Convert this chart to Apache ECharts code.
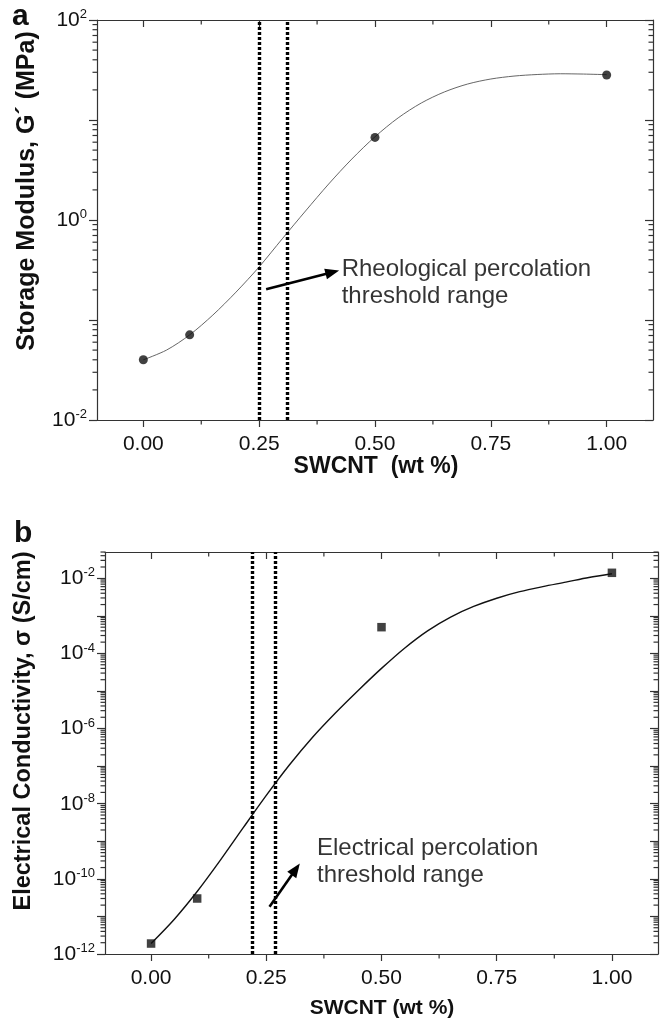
<!DOCTYPE html>
<html>
<head>
<meta charset="utf-8">
<script src="https://cdn.jsdelivr.net/npm/echarts@6/dist/echarts.min.js"></script>
<style>
  html, body { margin: 0; padding: 0; background: #fff; }
  #chart { width: 663px; height: 1026px; }
</style>
</head>
<body>
<div id="chart"></div>
<script>
// panel a - storage modulus (MPa) vs SWCNT loading
const loadA = [0, 0.1, 0.5, 1.0];
const modulus = [0.040, 0.071, 6.7, 28.2];
const fitLoadA = [0, 0.05, 0.1, 0.15, 0.2, 0.25, 0.3, 0.35, 0.4, 0.45, 0.5, 0.55, 0.6, 0.65, 0.7, 0.75, 0.8, 0.85, 0.9, 0.95, 1.0];
const fitModulus = [0.040, 0.050, 0.071, 0.112, 0.19, 0.34, 0.65, 1.23, 2.29, 4.07, 6.8, 10.5, 14.8, 19.1, 22.9, 25.7, 27.5, 28.5, 29.0, 28.8, 28.4];
const rheoThreshold = [0.25, 0.31];

// panel b - electrical conductivity (S/cm) vs SWCNT loading
const loadB = [0, 0.1, 0.5, 1.0];
const conductivity = [1.9e-12, 3.0e-11, 5.0e-4, 1.4e-2];
const fitLoadB = [0, 0.05, 0.1, 0.15, 0.2, 0.25, 0.3, 0.35, 0.4, 0.45, 0.5, 0.55, 0.6, 0.65, 0.7, 0.75, 0.8, 0.85, 0.9, 0.95, 1.0];
const fitConductivity = [1.9e-12, 8.3e-12, 4.6e-11, 3.1e-10, 2.3e-9, 1.66e-8, 1.07e-7, 5.8e-7, 2.6e-6, 1.05e-5, 4.0e-5, 1.38e-4, 4.0e-4, 9.3e-4, 1.78e-3, 2.95e-3, 4.4e-3, 6.0e-3, 7.9e-3, 1.05e-2, 1.32e-2];
const elecThreshold = [0.217, 0.273];

// ticks
const xRange = [-0.1, 1.1];
const xTicks = [0, 0.25, 0.5, 0.75, 1.0];
const xMinorTicks = [0.125, 0.375, 0.625, 0.875];
const yRangeA = [-2, 2];      // decades
const yRangeB = [-12, -1.3];
const yLabelExpA = [-2, 0, 2];
const yLabelExpB = [-12, -10, -8, -6, -4, -2];

const font = 'Liberation Sans';
const ink = '#111';
const axisColor = '#333';

const log = v => Math.log10(v);

function logMinor(lo, hi) {
  const out = [];
  for (let n = Math.floor(lo); n < hi; n++) {
    for (let k = 2; k <= 9; k++) {
      const v = n + Math.log10(k);
      if (v > lo && v < hi) out.push(v);
    }
  }
  return out;
}
function decades(lo, hi) {
  const out = [];
  for (let n = Math.ceil(lo); n <= hi; n++) out.push(n);
  return out;
}

const lineStyle = { color: axisColor, width: 1.2 };

function xAxes(gridIndex) {
  const base = { gridIndex, type: 'value', min: xRange[0], max: xRange[1], splitLine: { show: false } };
  return [
    { ...base, position: 'bottom',
      axisLine: { show: true, onZero: false, lineStyle },
      axisTick: { show: true, customValues: xTicks, length: 7, lineStyle },
      axisLabel: { customValues: xTicks, margin: 14, fontSize: 21, color: ink, fontFamily: font,
                   formatter: v => v.toFixed(2) } },
    { ...base, position: 'top',
      axisLine: { show: true, onZero: false, lineStyle },
      axisTick: { show: true, inside: true, customValues: xTicks, length: 7, lineStyle },
      axisLabel: { show: false } }
  ];
}

function yAxes(gridIndex, range, labelExp) {
  const base = { gridIndex, type: 'value', min: range[0], max: range[1], splitLine: { show: false } };
  const major = decades(range[0], range[1]);
  return [
    { ...base, position: 'left',
      axisLine: { show: true, onZero: false, lineStyle },
      axisTick: { show: true, customValues: major, length: 8, lineStyle },
      axisLabel: { customValues: labelExp, margin: 10, color: ink, fontFamily: font,
                   formatter: v => '{b|10}{s|' + Math.round(v) + '}',
                   rich: {
                     b: { fontSize: 21, fontFamily: font, color: ink },
                     s: { fontSize: 13, fontFamily: font, color: ink, padding: [0, 0, 11, 0] }
                   } } },
    { ...base, position: 'right',
      axisLine: { show: true, onZero: false, lineStyle },
      axisTick: { show: true, inside: true, customValues: major, length: 8, lineStyle },
      axisLabel: { show: false } }
  ];
}

// minor ticks drawn through the axes' own coordinate mapping
function minorTicks(xi, yi, yRange) {
  const L = 4.5;
  const stroke = { stroke: axisColor, lineWidth: 1.2 };
  return [
    {
      type: 'custom', xAxisIndex: xi, yAxisIndex: yi, silent: true, clip: false, z: 1,
      data: logMinor(yRange[0], yRange[1]).map(v => [xRange[0], v]),
      renderItem(params, api) {
        const l = api.coord([xRange[0], api.value(1)]);
        const r = api.coord([xRange[1], api.value(1)]);
        return { type: 'group', children: [
          { type: 'line', shape: { x1: l[0] - L, y1: l[1], x2: l[0], y2: l[1] }, style: stroke },
          { type: 'line', shape: { x1: r[0] - L, y1: r[1], x2: r[0], y2: r[1] }, style: stroke }
        ] };
      }
    },
    {
      type: 'custom', xAxisIndex: xi, yAxisIndex: yi, silent: true, clip: false, z: 1,
      data: xMinorTicks.map(v => [v, yRange[0]]),
      renderItem(params, api) {
        const b = api.coord([api.value(0), yRange[0]]);
        const t = api.coord([api.value(0), yRange[1]]);
        return { type: 'group', children: [
          { type: 'line', shape: { x1: b[0], y1: b[1], x2: b[0], y2: b[1] + L }, style: stroke },
          { type: 'line', shape: { x1: t[0], y1: t[1], x2: t[0], y2: t[1] + L }, style: stroke }
        ] };
      }
    }
  ];
}

const noteLabel = {
  show: true, position: 'right', distance: 0, fontSize: 24, lineHeight: 27,
  fontFamily: font, color: '#000', align: 'left'
};
const thresholdStyle = { color: '#000', width: 3.4, type: [3, 2] };
const arrowStyle = { color: '#000', width: 2.6, type: 'solid' };

const chart = echarts.init(document.getElementById('chart'));
chart.setOption({
  animation: false,
  backgroundColor: '#fff',
  grid: [
    { left: 97, right: 10, top: 20, height: 400 },
    { left: 105, right: 5, top: 552, height: 402 }
  ],
  xAxis: [...xAxes(0), ...xAxes(1)],
  yAxis: [...yAxes(0, yRangeA, yLabelExpA), ...yAxes(1, yRangeB, yLabelExpB)],
  graphic: [
    { type: 'text', left: 12, top: 2, style: { text: 'a', font: 'bold 30px Liberation Sans', fill: '#111' } },
    { type: 'text', left: 14, top: 519, style: { text: 'b', font: 'bold 30px Liberation Sans', fill: '#111' } },
    { type: 'text', x: 27, y: 191, rotation: Math.PI / 2,
      style: { text: 'Storage Modulus, G´ (MPa)', font: 'bold 25px Liberation Sans', fill: ink,
               align: 'center', verticalAlign: 'middle', textAlign: 'center', textVerticalAlign: 'middle' } },
    { type: 'text', x: 24, y: 731, rotation: Math.PI / 2,
      style: { text: 'Electrical Conductivity, σ (S/cm)', font: 'bold 23.5px Liberation Sans', fill: ink,
               align: 'center', verticalAlign: 'middle', textAlign: 'center', textVerticalAlign: 'middle' } },
    { type: 'text', x: 376, y: 467,
      style: { text: 'SWCNT  (wt %)', font: 'bold 23px Liberation Sans', fill: ink,
               align: 'center', verticalAlign: 'middle', textAlign: 'center', textVerticalAlign: 'middle' } },
    { type: 'text', x: 382, y: 1008,
      style: { text: 'SWCNT (wt %)', font: 'bold 21px Liberation Sans', fill: ink,
               align: 'center', verticalAlign: 'middle', textAlign: 'center', textVerticalAlign: 'middle' } }
  ],
  series: [
    // ---- panel a ----
    ...minorTicks(0, 0, yRangeA),
    {
      type: 'line', xAxisIndex: 0, yAxisIndex: 0, smooth: 0.3, showSymbol: false, silent: true,
      data: fitLoadA.map((x, i) => [x, log(fitModulus[i])]),
      lineStyle: { color: '#555', width: 0.9 }, z: 2,
      markLine: {
        silent: true, symbol: ['none', 'none'], label: { show: false },
        lineStyle: thresholdStyle,
        data: rheoThreshold.map(v => ({ xAxis: v }))
      }
    },
    {
      type: 'scatter', xAxisIndex: 0, yAxisIndex: 0, symbol: 'circle', symbolSize: 9,
      itemStyle: { color: '#111' }, z: 4,
      data: loadA.map((x, i) => [x, log(modulus[i])])
    },
    {
      type: 'scatter', xAxisIndex: 0, yAxisIndex: 0, symbolSize: 0, silent: true,
      data: [[0.428, log(0.233)]],
      label: { ...noteLabel, formatter: 'Rheological percolation\nthreshold range' },
      markLine: {
        silent: true, symbol: ['none', 'triangle'], symbolSize: [11, 14], label: { show: false },
        lineStyle: arrowStyle,
        data: [[{ coord: [0.265, log(0.203)] }, { coord: [0.408, log(0.30)] }]]
      }
    },
    // ---- panel b ----
    ...minorTicks(2, 2, yRangeB),
    {
      type: 'line', xAxisIndex: 2, yAxisIndex: 2, smooth: 0.3, showSymbol: false, silent: true,
      data: fitLoadB.map((x, i) => [x, log(fitConductivity[i])]),
      lineStyle: { color: '#111', width: 1.4 }, z: 2,
      markLine: {
        silent: true, symbol: ['none', 'none'], label: { show: false },
        lineStyle: thresholdStyle,
        data: elecThreshold.map(v => ({ xAxis: v }))
      }
    },
    {
      type: 'scatter', xAxisIndex: 2, yAxisIndex: 2, symbol: 'rect', symbolSize: 8.5,
      itemStyle: { color: '#111' }, z: 4,
      data: loadB.map((x, i) => [x, log(conductivity[i])])
    },
    {
      type: 'scatter', xAxisIndex: 2, yAxisIndex: 2, symbolSize: 0, silent: true,
      data: [[0.36, log(2.85e-10)]],
      label: { ...noteLabel, formatter: 'Electrical percolation\nthreshold range' },
      markLine: {
        silent: true, symbol: ['none', 'triangle'], symbolSize: [11, 14], label: { show: false },
        lineStyle: arrowStyle,
        data: [[{ coord: [0.257, log(1.82e-11)] }, { coord: [0.314, log(1.8e-10)] }]]
      }
    }
  ]
});
</script>
</body>
</html>
